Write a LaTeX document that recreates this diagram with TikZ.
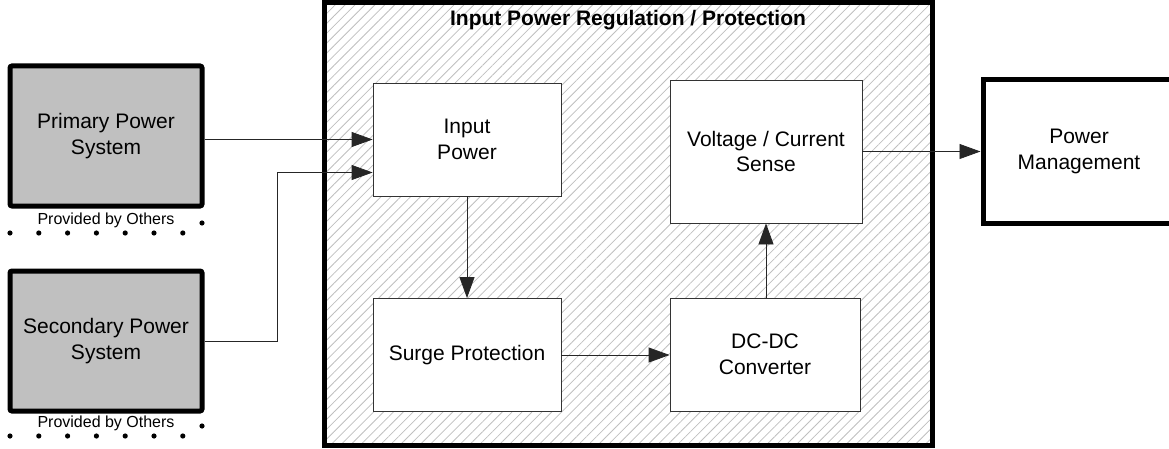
\documentclass[tikz,border=0pt]{standalone}
\usepackage{fontspec}
\setmainfont{Liberation Sans}
\usetikzlibrary{positioning,calc,arrows.meta,patterns.meta}

\begin{document}
\begin{tikzpicture}[
            x=1pt, y=-1pt,
            font=\fontsize{21}{25.5}\selectfont,
            box/.style={draw=black!80, fill=white, line width=0.8pt, align=center, minimum width=188pt, minimum height=113pt, inner sep=0pt},
            src/.style={draw, line width=5pt, rounded corners=2pt, fill={rgb,255:red,192;green,192;blue,192}, align=center, minimum width=192pt, minimum height=140pt, inner sep=0pt},
            frame/.style={draw, line width=5pt, pattern={Lines[angle=45, distance=7pt, line width=0.8pt]}, pattern color=black!25, minimum width=608pt, minimum height=442pt, inner sep=0pt},
            note/.style={font=\fontsize{16}{19}\selectfont},
            arr/.style={-{Triangle[length=21pt, width=15pt]}, line width=0.8pt, black!85}
        ]
        \useasboundingbox (0,0) rectangle (1169,449);

        \node[frame] (reg) at (628,224) {};
        \node[font=\fontsize{21}{25.5}\selectfont\bfseries] (title) at (628,20) {Input Power Regulation / Protection};

        \node[box] (input) at (467,139.5) {Input\\Power};
        \node[box] (surge) at (467,355) {Surge Protection};
        \node[box, minimum width=192pt, minimum height=143pt] (sense) at (766,151.5) {Voltage / Current\\Sense};
        \node[box, minimum width=190pt] (dcdc) at (765,354.5) {DC-DC\\Converter};

        \node[src] (primary) at (106,136) {Primary Power\\System};
        \node[src] (secondary) at (106,341) {Secondary Power\\System};
        \node[note] (others1) at (106,220) {Provided by Others};
        \node[note] (others2) at (106,423) {Provided by Others};

        \node[draw, line width=5pt, align=center, minimum width=192pt, minimum height=143pt, inner sep=0pt] (pm) at (1079,151.5) {Power\\Management};

        \foreach \i in {0,...,6} {
            \fill (10+28.8*\i,233) circle (2.6pt);
            \fill (10+28.8*\i,436) circle (2.6pt);
        }
        \fill (202,223) circle (2.6pt);
        \fill (202,426) circle (2.6pt);

        \draw[arr] (primary.east |- input.west) -- (input.west);
        \draw[arr] (secondary.east) -- ++(72.5,0) |- ($(input.west)+(0,33)$);
        \draw[arr] (input.south) -- (surge.north);
        \draw[arr] (surge.east) -- (surge.east -| dcdc.west);
        \draw[arr] (dcdc.north -| sense.south) -- (sense.south);
        \draw[arr] (sense.east) -- (pm.west);
    \end{tikzpicture}
\end{document}
